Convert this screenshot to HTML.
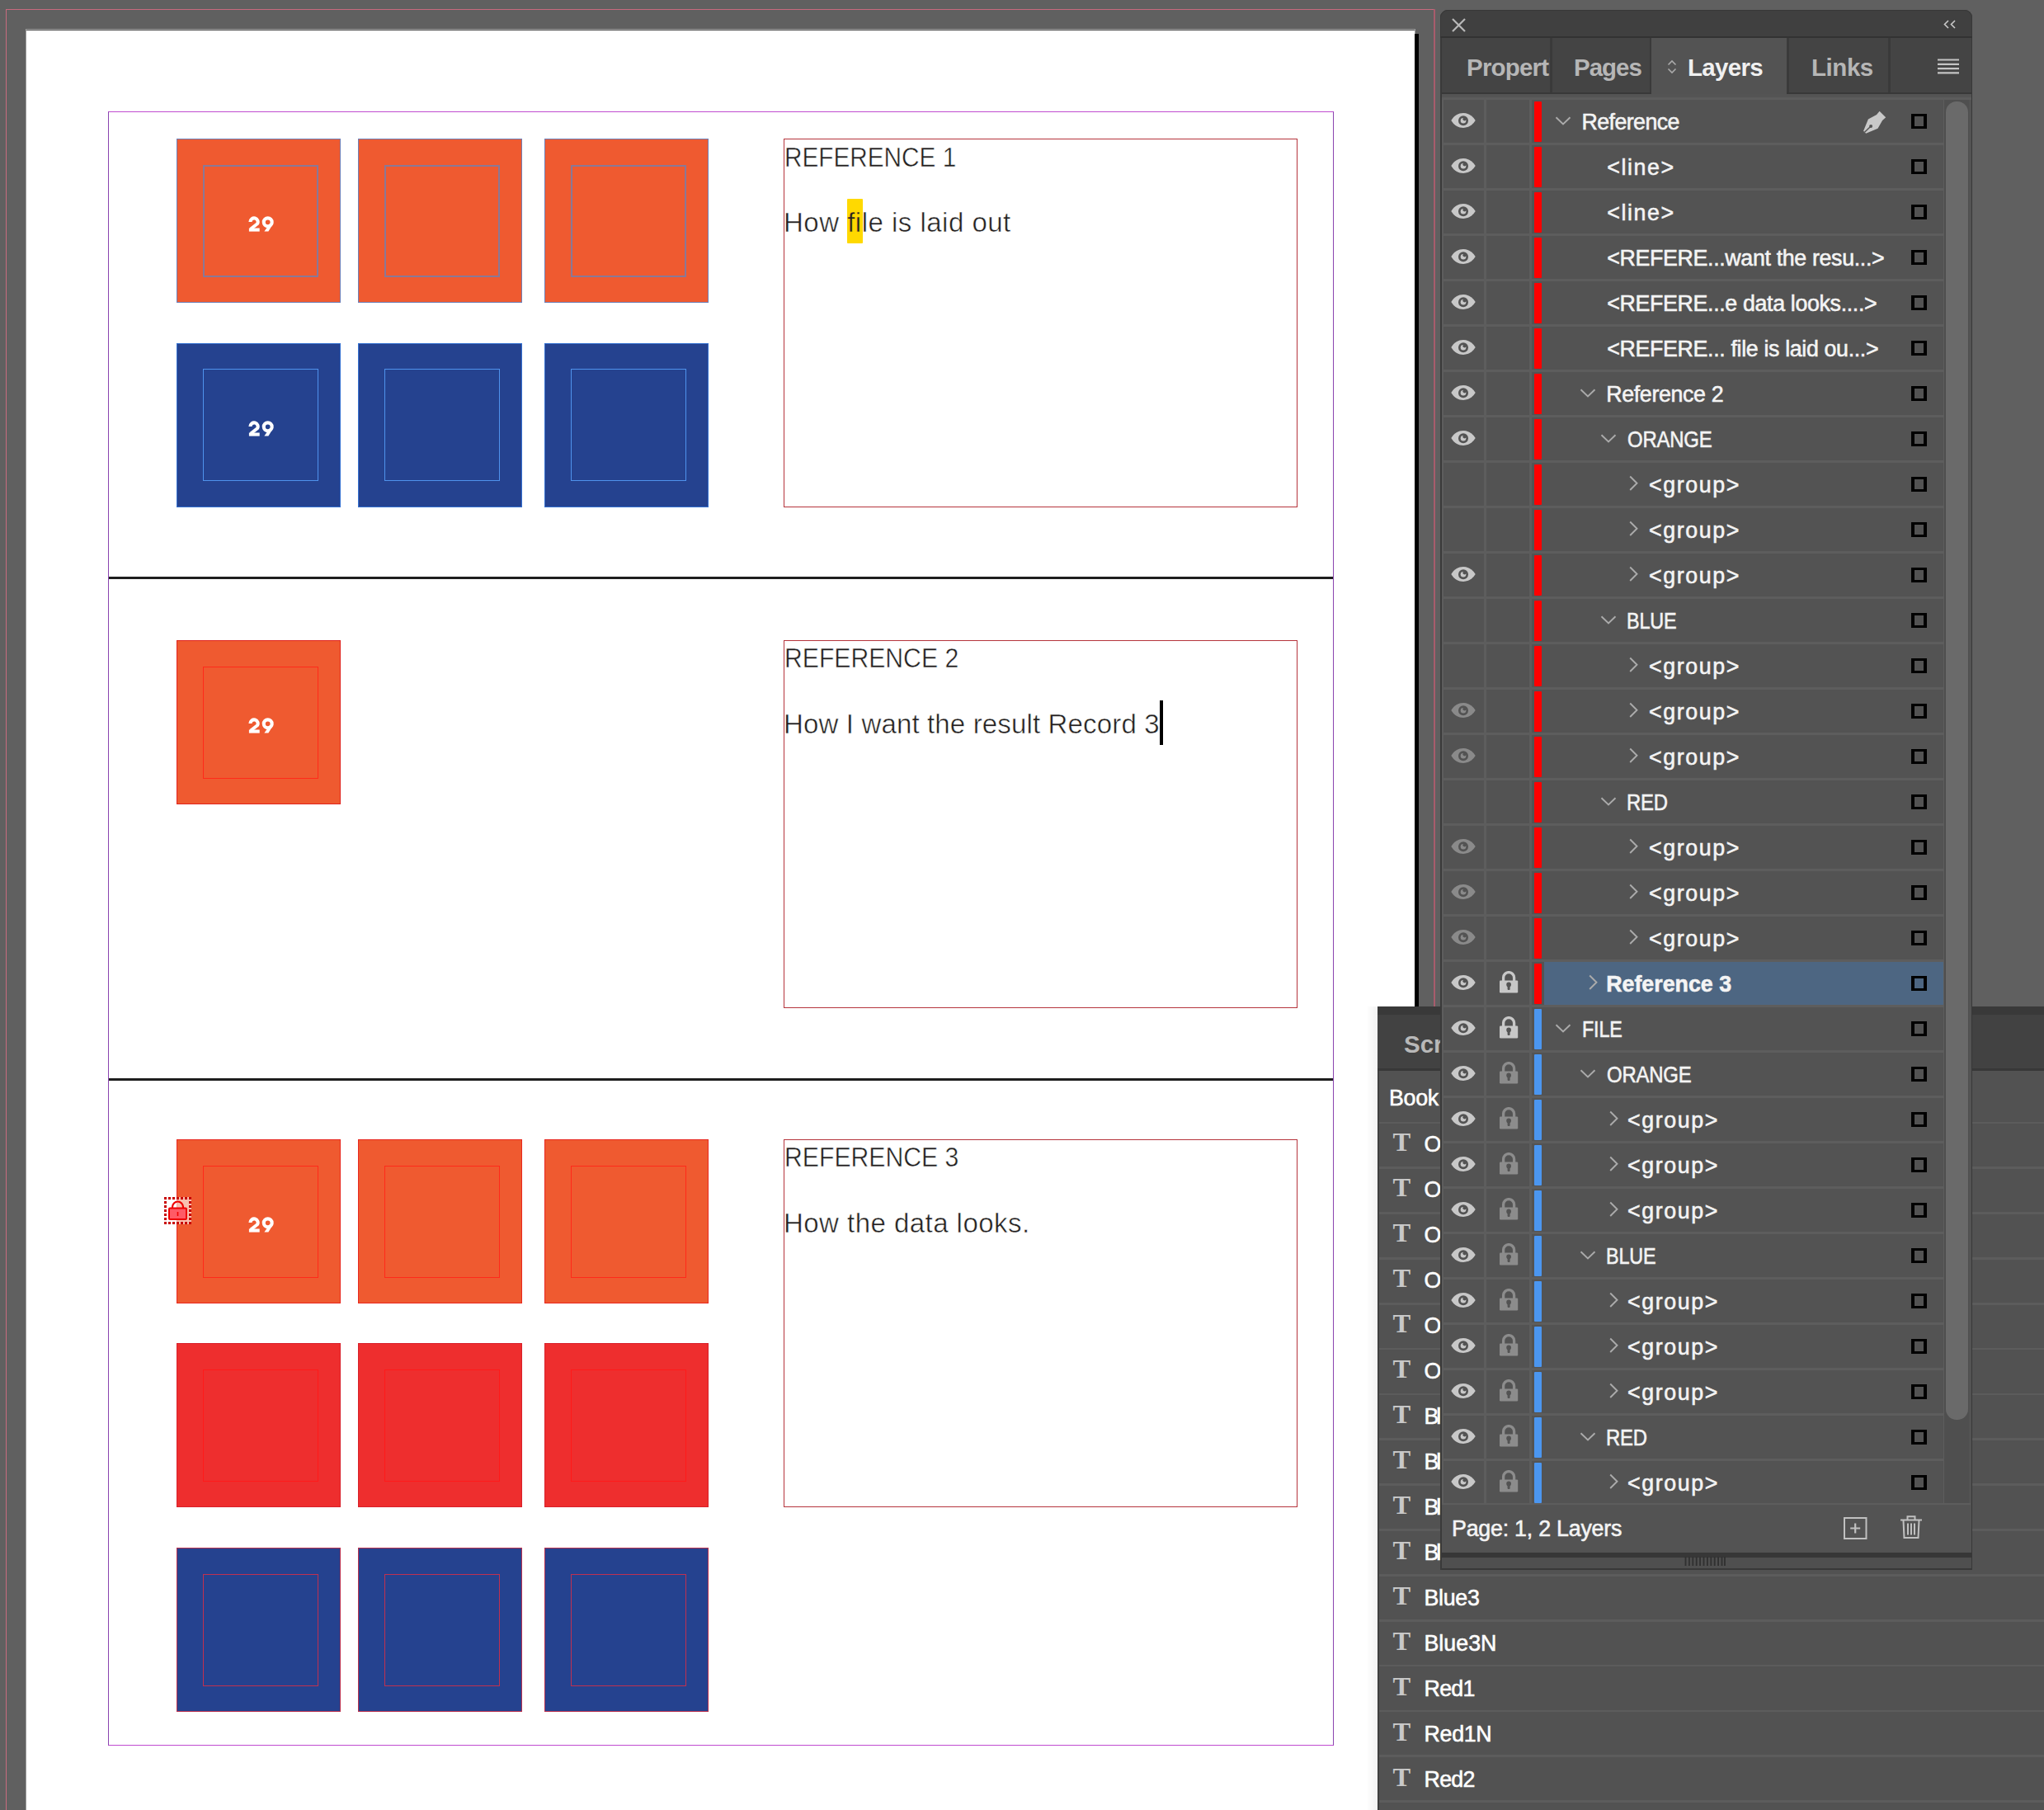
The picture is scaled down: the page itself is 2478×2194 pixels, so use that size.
<!DOCTYPE html><html><head><meta charset="utf-8"><style>

*{margin:0;padding:0;box-sizing:border-box}
html,body{width:2478px;height:2194px;overflow:hidden;background:#606060;font-family:"Liberation Sans",sans-serif}
.abs{position:absolute}
.lh0{position:absolute;line-height:0}
.sq{position:absolute;width:199px;height:199px}
.in{position:absolute;width:140px;height:136px}
.n29{position:absolute;left:0;width:100%;text-align:center;color:#fff;font-weight:bold;font-size:26px;line-height:1;transform:scaleX(1.12)}
.tf{position:absolute;left:950px;width:623px;border:1px solid #b5343c}
.tt{position:absolute;left:950px;white-space:nowrap;color:#231f20;font-size:33px;line-height:1;-webkit-text-stroke:0.5px #fff}
.tt .hl{-webkit-text-stroke:0.5px #ffd900}
.pt{position:absolute;white-space:nowrap;color:#f4f4f4;font-size:26.8px;line-height:1;-webkit-text-stroke:0.55px currentColor}
.cb{position:absolute;left:2317px;width:19px;height:18px;border:solid #000;border-width:3.2px 4px}
.tab{position:absolute;top:67px;font-size:29.5px;font-weight:bold;line-height:1;white-space:nowrap}

</style></head><body>
<div class="abs" style="left:7px;top:11px;width:1733px;height:1px;background:#c86a7e"></div>
<div class="abs" style="left:7px;top:11px;width:1px;height:2183px;background:#c86a7e"></div>
<div class="abs" style="left:1738px;top:11px;width:2px;height:2183px;background:#a85c6c"></div>
<div class="abs" style="left:31px;top:35px;width:1685px;height:2159px;background:#a0a0a0"></div>
<div class="abs" style="left:1715px;top:41px;width:5px;height:2153px;background:#000"></div>
<div class="abs" style="left:32px;top:36px;width:1683px;height:2158px;background:#fff;border-top:1px solid #555"></div>
<div class="abs" style="left:131px;top:135px;width:1486px;height:1981px;border:1px solid;border-color:#c04cd0 #8a44b0 #c04cd0 #8a44b0"></div>
<div class="abs" style="left:132px;top:699px;width:1484px;height:3px;background:#1e1e1e"></div>
<div class="abs" style="left:132px;top:1307px;width:1484px;height:3px;background:#1e1e1e"></div>
<div class="sq" style="left:214px;top:168px;background:#ef5a30;border:1px solid #6f7fb6"></div>
<div class="in" style="left:246px;top:200px;border:2px solid #8a7896"></div>
<svg class="abs" style="left:300.5px;top:261.5px" width="32" height="20" viewBox="0 0 32 20"><path d="M2.45 6.95A4.6 4.6 0 1 1 11.03 9.25L3 15.5" fill="none" stroke="#fff" stroke-width="4.1"/><rect x="0.9" y="14.5" width="12.8" height="4.1" fill="#fff"/><circle cx="23.7" cy="7.3" r="4.95" fill="none" stroke="#fff" stroke-width="4.1"/><path d="M30.65 8.3L24.4 18.6H19.4L25.6 9.6Z" fill="#fff"/></svg>
<div class="sq" style="left:434px;top:168px;background:#ef5a30;border:1px solid #6f7fb6"></div>
<div class="in" style="left:466px;top:200px;border:2px solid #8a7896"></div>
<div class="sq" style="left:660px;top:168px;background:#ef5a30;border:1px solid #6f7fb6"></div>
<div class="in" style="left:692px;top:200px;border:2px solid #8a7896"></div>
<div class="sq" style="left:214px;top:416px;background:#25428f;border:1px solid #3470d0"></div>
<div class="in" style="left:246px;top:447px;border:1px solid #4f92ec"></div>
<svg class="abs" style="left:300.5px;top:509.5px" width="32" height="20" viewBox="0 0 32 20"><path d="M2.45 6.95A4.6 4.6 0 1 1 11.03 9.25L3 15.5" fill="none" stroke="#fff" stroke-width="4.1"/><rect x="0.9" y="14.5" width="12.8" height="4.1" fill="#fff"/><circle cx="23.7" cy="7.3" r="4.95" fill="none" stroke="#fff" stroke-width="4.1"/><path d="M30.65 8.3L24.4 18.6H19.4L25.6 9.6Z" fill="#fff"/></svg>
<div class="sq" style="left:434px;top:416px;background:#25428f;border:1px solid #3470d0"></div>
<div class="in" style="left:466px;top:447px;border:1px solid #4f92ec"></div>
<div class="sq" style="left:660px;top:416px;background:#25428f;border:1px solid #3470d0"></div>
<div class="in" style="left:692px;top:447px;border:1px solid #4f92ec"></div>
<div class="sq" style="left:214px;top:776px;background:#ef5a30;border:1px solid #e0241e"></div>
<div class="in" style="left:246px;top:808px;border:1px solid #ff2a1a"></div>
<svg class="abs" style="left:300.5px;top:869.5px" width="32" height="20" viewBox="0 0 32 20"><path d="M2.45 6.95A4.6 4.6 0 1 1 11.03 9.25L3 15.5" fill="none" stroke="#fff" stroke-width="4.1"/><rect x="0.9" y="14.5" width="12.8" height="4.1" fill="#fff"/><circle cx="23.7" cy="7.3" r="4.95" fill="none" stroke="#fff" stroke-width="4.1"/><path d="M30.65 8.3L24.4 18.6H19.4L25.6 9.6Z" fill="#fff"/></svg>
<div class="sq" style="left:214px;top:1381px;background:#ef5a30;border:1px solid #e8281e"></div>
<div class="in" style="left:246px;top:1413px;border:1px solid #ff2a1a"></div>
<svg class="abs" style="left:300.5px;top:1474.5px" width="32" height="20" viewBox="0 0 32 20"><path d="M2.45 6.95A4.6 4.6 0 1 1 11.03 9.25L3 15.5" fill="none" stroke="#fff" stroke-width="4.1"/><rect x="0.9" y="14.5" width="12.8" height="4.1" fill="#fff"/><circle cx="23.7" cy="7.3" r="4.95" fill="none" stroke="#fff" stroke-width="4.1"/><path d="M30.65 8.3L24.4 18.6H19.4L25.6 9.6Z" fill="#fff"/></svg>
<div class="sq" style="left:434px;top:1381px;background:#ef5a30;border:1px solid #e8281e"></div>
<div class="in" style="left:466px;top:1413px;border:1px solid #ff2a1a"></div>
<div class="sq" style="left:660px;top:1381px;background:#ef5a30;border:1px solid #e8281e"></div>
<div class="in" style="left:692px;top:1413px;border:1px solid #ff2a1a"></div>
<div class="sq" style="left:214px;top:1628px;background:#ee2e2e;border:1px solid #d8202a"></div>
<div class="in" style="left:246px;top:1660px;border:1px solid #ff1a1a"></div>
<div class="sq" style="left:434px;top:1628px;background:#ee2e2e;border:1px solid #d8202a"></div>
<div class="in" style="left:466px;top:1660px;border:1px solid #ff1a1a"></div>
<div class="sq" style="left:660px;top:1628px;background:#ee2e2e;border:1px solid #d8202a"></div>
<div class="in" style="left:692px;top:1660px;border:1px solid #ff1a1a"></div>
<div class="sq" style="left:214px;top:1876px;background:#25428f;border:1px solid #b8304e"></div>
<div class="in" style="left:246px;top:1908px;border:1px solid #c03050"></div>
<div class="sq" style="left:434px;top:1876px;background:#25428f;border:1px solid #b8304e"></div>
<div class="in" style="left:466px;top:1908px;border:1px solid #c03050"></div>
<div class="sq" style="left:660px;top:1876px;background:#25428f;border:1px solid #b8304e"></div>
<div class="in" style="left:692px;top:1908px;border:1px solid #c03050"></div>
<div class="abs" style="left:199px;top:1451px;width:33px;height:33px;background:rgba(255,255,255,0.62)"></div>
<div class="abs" style="left:199px;top:1451px;width:3px;height:3px;background:#c80000"></div><div class="abs" style="left:199px;top:1481px;width:3px;height:3px;background:#c80000"></div><div class="abs" style="left:199px;top:1451px;width:3px;height:3px;background:#c80000"></div><div class="abs" style="left:229px;top:1451px;width:3px;height:3px;background:#c80000"></div><div class="abs" style="left:204px;top:1451px;width:3px;height:3px;background:#c80000"></div><div class="abs" style="left:204px;top:1481px;width:3px;height:3px;background:#c80000"></div><div class="abs" style="left:199px;top:1456px;width:3px;height:3px;background:#c80000"></div><div class="abs" style="left:229px;top:1456px;width:3px;height:3px;background:#c80000"></div><div class="abs" style="left:209px;top:1451px;width:3px;height:3px;background:#c80000"></div><div class="abs" style="left:209px;top:1481px;width:3px;height:3px;background:#c80000"></div><div class="abs" style="left:199px;top:1461px;width:3px;height:3px;background:#c80000"></div><div class="abs" style="left:229px;top:1461px;width:3px;height:3px;background:#c80000"></div><div class="abs" style="left:214px;top:1451px;width:3px;height:3px;background:#c80000"></div><div class="abs" style="left:214px;top:1481px;width:3px;height:3px;background:#c80000"></div><div class="abs" style="left:199px;top:1466px;width:3px;height:3px;background:#c80000"></div><div class="abs" style="left:229px;top:1466px;width:3px;height:3px;background:#c80000"></div><div class="abs" style="left:219px;top:1451px;width:3px;height:3px;background:#c80000"></div><div class="abs" style="left:219px;top:1481px;width:3px;height:3px;background:#c80000"></div><div class="abs" style="left:199px;top:1471px;width:3px;height:3px;background:#c80000"></div><div class="abs" style="left:229px;top:1471px;width:3px;height:3px;background:#c80000"></div><div class="abs" style="left:224px;top:1451px;width:3px;height:3px;background:#c80000"></div><div class="abs" style="left:224px;top:1481px;width:3px;height:3px;background:#c80000"></div><div class="abs" style="left:199px;top:1476px;width:3px;height:3px;background:#c80000"></div><div class="abs" style="left:229px;top:1476px;width:3px;height:3px;background:#c80000"></div><div class="abs" style="left:229px;top:1451px;width:3px;height:3px;background:#c80000"></div><div class="abs" style="left:229px;top:1481px;width:3px;height:3px;background:#c80000"></div><div class="abs" style="left:199px;top:1481px;width:3px;height:3px;background:#c80000"></div><div class="abs" style="left:229px;top:1481px;width:3px;height:3px;background:#c80000"></div>
<svg class="abs" style="left:203px;top:1455px" width="25" height="25" viewBox="0 0 25 25"><path d="M6 9.5V8A6.5 6.5 0 0 1 19 8V9.5" stroke="#ee0000" stroke-width="2.2" fill="none"/><rect x="2" y="9.5" width="21" height="13.5" rx="1" fill="#ff5a66" stroke="#ee0000" stroke-width="2"/><path d="M12.5 14V19" stroke="#ee0000" stroke-width="1.6"/></svg>
<div class="tf" style="top:168px;height:447px"></div>
<div class="tf" style="top:776px;height:446px"></div>
<div class="tf" style="top:1381px;height:446px"></div>
<div class="abs" style="left:1027px;top:241px;width:19px;height:54px;background:#ffd900;border-radius:1px"></div>
<div class="tt" style="top:174px;left:950.60px;transform:scaleX(0.901);transform-origin:0 0">REFERENCE 1</div>
<div class="tt" style="top:253px;letter-spacing:0.49px">How <span class="hl">fi</span>le is laid out</div>
<div class="tt" style="top:781px;left:950.56px;transform:scaleX(0.914);transform-origin:0 0">REFERENCE 2</div>
<div class="tt" style="top:861px;letter-spacing:0.15px">How I want the result Record 3</div>
<div class="tt" style="top:1386px;left:950.55px;transform:scaleX(0.915);transform-origin:0 0">REFERENCE 3</div>
<div class="tt" style="top:1466px;letter-spacing:0.46px">How the data looks.</div>
<div class="abs" style="left:1406px;top:849px;width:4px;height:54px;background:#000"></div>
<div class="abs" style="left:1656px;top:1220px;width:14px;height:974px;background:linear-gradient(to right,rgba(0,0,0,0),rgba(0,0,0,0.05))"></div>
<div class="abs" style="left:1670px;top:1220px;width:808px;height:974px;background:#525252;border-left:2px solid #3e3e3e"></div>
<div class="abs" style="left:1670px;top:1220px;width:808px;height:10px;background:#393939"></div>
<div class="abs" style="left:1670px;top:1230px;width:808px;height:65px;background:#424242"></div>
<div class="tab" style="left:1702px;top:1251px;color:#b8b8b8">Scripts</div>
<div class="abs" style="left:1670px;top:1295px;width:808px;height:3px;background:#383838"></div>
<div class="pt" style="left:1684px;top:1318px;color:#fff;letter-spacing:-0.3px">Book</div>
<div class="abs" style="left:1672px;top:1359.50px;width:806px;height:2.7px;background:#5c5c5c"></div>
<div class="abs" style="left:1672px;top:1414.35px;width:806px;height:2.7px;background:#5c5c5c"></div>
<div class="abs" style="left:1672px;top:1469.20px;width:806px;height:2.7px;background:#5c5c5c"></div>
<div class="abs" style="left:1672px;top:1524.05px;width:806px;height:2.7px;background:#5c5c5c"></div>
<div class="abs" style="left:1672px;top:1578.90px;width:806px;height:2.7px;background:#5c5c5c"></div>
<div class="abs" style="left:1672px;top:1633.75px;width:806px;height:2.7px;background:#5c5c5c"></div>
<div class="abs" style="left:1672px;top:1688.60px;width:806px;height:2.7px;background:#5c5c5c"></div>
<div class="abs" style="left:1672px;top:1743.45px;width:806px;height:2.7px;background:#5c5c5c"></div>
<div class="abs" style="left:1672px;top:1798.30px;width:806px;height:2.7px;background:#5c5c5c"></div>
<div class="abs" style="left:1672px;top:1853.15px;width:806px;height:2.7px;background:#5c5c5c"></div>
<div class="abs" style="left:1672px;top:1908.00px;width:806px;height:2.7px;background:#5c5c5c"></div>
<div class="abs" style="left:1672px;top:1962.85px;width:806px;height:2.7px;background:#5c5c5c"></div>
<div class="abs" style="left:1672px;top:2017.70px;width:806px;height:2.7px;background:#5c5c5c"></div>
<div class="abs" style="left:1672px;top:2072.55px;width:806px;height:2.7px;background:#5c5c5c"></div>
<div class="abs" style="left:1672px;top:2127.40px;width:806px;height:2.7px;background:#5c5c5c"></div>
<div class="abs" style="left:1672px;top:2182.25px;width:806px;height:2.7px;background:#5c5c5c"></div>
<div class="abs" style="left:1688.5px;top:1367.8px;font-family:'Liberation Serif',serif;font-weight:bold;font-size:32.5px;color:#c8c8c8;line-height:1">T</div>
<div class="pt" style="left:1726.5px;top:1374.4px;color:#fff;letter-spacing:0px">O</div>
<div class="abs" style="left:1688.5px;top:1422.8px;font-family:'Liberation Serif',serif;font-weight:bold;font-size:32.5px;color:#c8c8c8;line-height:1">T</div>
<div class="pt" style="left:1726.5px;top:1429.4px;color:#fff;letter-spacing:0px">O</div>
<div class="abs" style="left:1688.5px;top:1477.8px;font-family:'Liberation Serif',serif;font-weight:bold;font-size:32.5px;color:#c8c8c8;line-height:1">T</div>
<div class="pt" style="left:1726.5px;top:1484.4px;color:#fff;letter-spacing:0px">O</div>
<div class="abs" style="left:1688.5px;top:1532.8px;font-family:'Liberation Serif',serif;font-weight:bold;font-size:32.5px;color:#c8c8c8;line-height:1">T</div>
<div class="pt" style="left:1726.5px;top:1539.4px;color:#fff;letter-spacing:0px">O</div>
<div class="abs" style="left:1688.5px;top:1587.8px;font-family:'Liberation Serif',serif;font-weight:bold;font-size:32.5px;color:#c8c8c8;line-height:1">T</div>
<div class="pt" style="left:1726.5px;top:1594.4px;color:#fff;letter-spacing:0px">O</div>
<div class="abs" style="left:1688.5px;top:1642.8px;font-family:'Liberation Serif',serif;font-weight:bold;font-size:32.5px;color:#c8c8c8;line-height:1">T</div>
<div class="pt" style="left:1726.5px;top:1649.4px;color:#fff;letter-spacing:0px">O</div>
<div class="abs" style="left:1688.5px;top:1697.8px;font-family:'Liberation Serif',serif;font-weight:bold;font-size:32.5px;color:#c8c8c8;line-height:1">T</div>
<div class="pt" style="left:1726.5px;top:1704.4px;color:#fff;letter-spacing:-3px">Bl</div>
<div class="abs" style="left:1688.5px;top:1752.8px;font-family:'Liberation Serif',serif;font-weight:bold;font-size:32.5px;color:#c8c8c8;line-height:1">T</div>
<div class="pt" style="left:1726.5px;top:1759.4px;color:#fff;letter-spacing:-3px">Bl</div>
<div class="abs" style="left:1688.5px;top:1807.8px;font-family:'Liberation Serif',serif;font-weight:bold;font-size:32.5px;color:#c8c8c8;line-height:1">T</div>
<div class="pt" style="left:1726.5px;top:1814.4px;color:#fff;letter-spacing:-3px">Bl</div>
<div class="abs" style="left:1688.5px;top:1862.8px;font-family:'Liberation Serif',serif;font-weight:bold;font-size:32.5px;color:#c8c8c8;line-height:1">T</div>
<div class="pt" style="left:1726.5px;top:1869.4px;color:#fff;letter-spacing:-3px">Bl</div>
<div class="abs" style="left:1688.5px;top:1917.8px;font-family:'Liberation Serif',serif;font-weight:bold;font-size:32.5px;color:#c8c8c8;line-height:1">T</div>
<div class="pt" style="left:1726.5px;top:1924.4px;color:#fff;letter-spacing:-0.3px">Blue3</div>
<div class="abs" style="left:1688.5px;top:1972.8px;font-family:'Liberation Serif',serif;font-weight:bold;font-size:32.5px;color:#c8c8c8;line-height:1">T</div>
<div class="pt" style="left:1726.5px;top:1979.4px;color:#fff;letter-spacing:0px">Blue3N</div>
<div class="abs" style="left:1688.5px;top:2027.8px;font-family:'Liberation Serif',serif;font-weight:bold;font-size:32.5px;color:#c8c8c8;line-height:1">T</div>
<div class="pt" style="left:1726.5px;top:2034.4px;color:#fff;letter-spacing:-0.7px">Red1</div>
<div class="abs" style="left:1688.5px;top:2082.8px;font-family:'Liberation Serif',serif;font-weight:bold;font-size:32.5px;color:#c8c8c8;line-height:1">T</div>
<div class="pt" style="left:1726.5px;top:2089.4px;color:#fff;letter-spacing:-0.3px">Red1N</div>
<div class="abs" style="left:1688.5px;top:2137.8px;font-family:'Liberation Serif',serif;font-weight:bold;font-size:32.5px;color:#c8c8c8;line-height:1">T</div>
<div class="pt" style="left:1726.5px;top:2144.4px;color:#fff;letter-spacing:-0.7px">Red2</div>
<div class="abs" style="left:1746px;top:12px;width:645px;height:1891px;background:#535353;border-radius:9px 9px 0 0;border:1px solid #383838"></div>
<div class="abs" style="left:1746px;top:12px;width:645px;height:33px;background:#404040;border-radius:9px 9px 0 0;border:1px solid #383838;border-bottom:none"></div>
<div class="abs" style="left:1746px;top:44px;width:645px;height:2px;background:#333"></div>
<svg class="abs" style="left:1759px;top:21px" width="19" height="19" viewBox="0 0 19 19"><path d="M2 2L17 17M17 2L2 17" stroke="#b8b8b8" stroke-width="2.2"/></svg>
<svg class="abs" style="left:2356px;top:24px" width="16" height="11" viewBox="0 0 16 11"><path d="M6 1L1.5 5.5L6 10M14 1L9.5 5.5L14 10" stroke="#c8c8c8" stroke-width="1.6" fill="none"/></svg>
<div class="abs" style="left:1747px;top:46px;width:643px;height:67px;background:#444"></div>
<div class="abs" style="left:1879px;top:46px;width:3px;height:67px;background:#3a3a3a"></div>
<div class="abs" style="left:2166px;top:46px;width:3px;height:67px;background:#3a3a3a"></div>
<div class="abs" style="left:2289px;top:46px;width:3px;height:67px;background:#3a3a3a"></div>
<div class="abs" style="left:2002px;top:46px;width:164px;height:75px;background:#535353"></div>
<div class="abs" style="left:2000px;top:46px;width:2px;height:67px;background:#3a3a3a"></div>
<div class="tab" style="left:1778px;width:101px;overflow:hidden;color:#b6b6b6;letter-spacing:-0.8px">Properties</div>
<div class="tab" style="left:1908px;color:#b6b6b6;letter-spacing:-1px">Pages</div>
<div class="tab" style="left:2046px;color:#f0f0f0;letter-spacing:-0.68px">Layers</div>
<div class="tab" style="left:2196px;color:#b6b6b6;letter-spacing:-0.45px">Links</div>
<svg class="abs" style="left:2021px;top:72px" width="12" height="18" viewBox="0 0 12 18"><path d="M1.5 6.5L6 2L10.5 6.5M1.5 11.5L6 16L10.5 11.5" stroke="#aaa" stroke-width="1.6" fill="none"/></svg>
<svg class="abs" style="left:2349px;top:71px" width="26" height="19" viewBox="0 0 26 19"><path d="M0 1.5H26M0 6.8H26M0 12.1H26M0 17.4H26" stroke="#c4c4c4" stroke-width="2.2"/></svg>
<div class="abs" style="left:1747px;top:112px;width:643px;height:2px;background:#383838"></div>
<div class="abs" style="left:2002px;top:112px;width:164px;height:2px;background:#535353"></div>
<div class="abs" style="left:1747px;top:114px;width:643px;height:4px;background:#545454"></div>
<div class="abs" style="left:1747px;top:118px;width:643px;height:3px;background:#5c5c5c"></div>
<div class="abs" style="left:1747px;top:121px;width:610px;height:1703px;background:#5d5d5d"></div>
<div class="abs" style="left:1750px;top:121.00px;width:49px;height:52px;background:#535353"></div>
<div class="abs" style="left:1802px;top:121.00px;width:52px;height:52px;background:#535353"></div>
<div class="abs" style="left:1857px;top:121.00px;width:15px;height:52px;background:#535353"></div>
<div class="abs" style="left:1872px;top:121.00px;width:484px;height:52px;background:#535353"></div>
<div class="abs" style="left:1860px;top:122.50px;width:8.5px;height:49px;background:#ff0000;border-radius:1px"></div>
<div class="lh0" style="left:1759px;top:137.00px"><svg width="30" height="18" viewBox="0 0 30 18"><path d="M0.3 9C7 -3 23 -3 29.7 9C23 21 7 21 0.3 9Z" fill="#c8c8c8"/><circle cx="15" cy="9.2" r="6" fill="#535353"/><circle cx="15" cy="9.2" r="3.3" fill="#c8c8c8"/><circle cx="16.5" cy="7.3" r="2.1" fill="#535353"/></svg></div>
<div class="lh0" style="left:1885px;top:141.30px"><svg width="20" height="11" viewBox="0 0 20 11"><path d="M1.5 1.2L10 9.4L18.5 1.2" stroke="#ababab" stroke-width="1.9" fill="none"/></svg></div>
<div class="pt" style="left:1917.5px;top:135.00px;font-weight:normal;letter-spacing:-0.59px">Reference</div>
<div class="cb" style="top:138.00px"></div>
<div class="lh0" style="left:2258px;top:134.00px"><svg width="30" height="30" viewBox="0 0 30 30"><path d="M20.6 0.8L28.2 8.3L24.1 12L18.5 21.7L4.1 27.8L1.1 24.8L6.9 10.6L17.1 5Z" fill="#c8c8c8"/><circle cx="10.1" cy="19" r="2" fill="#535353"/><path d="M2.5 26.3L10.1 19" stroke="#535353" stroke-width="1.5"/></svg></div>
<div class="abs" style="left:1750px;top:176.00px;width:49px;height:52px;background:#535353"></div>
<div class="abs" style="left:1802px;top:176.00px;width:52px;height:52px;background:#535353"></div>
<div class="abs" style="left:1857px;top:176.00px;width:15px;height:52px;background:#535353"></div>
<div class="abs" style="left:1872px;top:176.00px;width:484px;height:52px;background:#535353"></div>
<div class="abs" style="left:1860px;top:177.50px;width:8.5px;height:49px;background:#ff0000;border-radius:1px"></div>
<div class="lh0" style="left:1759px;top:192.00px"><svg width="30" height="18" viewBox="0 0 30 18"><path d="M0.3 9C7 -3 23 -3 29.7 9C23 21 7 21 0.3 9Z" fill="#c8c8c8"/><circle cx="15" cy="9.2" r="6" fill="#535353"/><circle cx="15" cy="9.2" r="3.3" fill="#c8c8c8"/><circle cx="16.5" cy="7.3" r="2.1" fill="#535353"/></svg></div>
<div class="pt" style="left:1948.2px;top:190.00px;font-weight:normal;letter-spacing:1.6px">&lt;line&gt;</div>
<div class="cb" style="top:193.00px"></div>
<div class="abs" style="left:1750px;top:231.00px;width:49px;height:52px;background:#535353"></div>
<div class="abs" style="left:1802px;top:231.00px;width:52px;height:52px;background:#535353"></div>
<div class="abs" style="left:1857px;top:231.00px;width:15px;height:52px;background:#535353"></div>
<div class="abs" style="left:1872px;top:231.00px;width:484px;height:52px;background:#535353"></div>
<div class="abs" style="left:1860px;top:232.50px;width:8.5px;height:49px;background:#ff0000;border-radius:1px"></div>
<div class="lh0" style="left:1759px;top:247.00px"><svg width="30" height="18" viewBox="0 0 30 18"><path d="M0.3 9C7 -3 23 -3 29.7 9C23 21 7 21 0.3 9Z" fill="#c8c8c8"/><circle cx="15" cy="9.2" r="6" fill="#535353"/><circle cx="15" cy="9.2" r="3.3" fill="#c8c8c8"/><circle cx="16.5" cy="7.3" r="2.1" fill="#535353"/></svg></div>
<div class="pt" style="left:1948.2px;top:245.00px;font-weight:normal;letter-spacing:1.6px">&lt;line&gt;</div>
<div class="cb" style="top:248.00px"></div>
<div class="abs" style="left:1750px;top:286.00px;width:49px;height:52px;background:#535353"></div>
<div class="abs" style="left:1802px;top:286.00px;width:52px;height:52px;background:#535353"></div>
<div class="abs" style="left:1857px;top:286.00px;width:15px;height:52px;background:#535353"></div>
<div class="abs" style="left:1872px;top:286.00px;width:484px;height:52px;background:#535353"></div>
<div class="abs" style="left:1860px;top:287.50px;width:8.5px;height:49px;background:#ff0000;border-radius:1px"></div>
<div class="lh0" style="left:1759px;top:302.00px"><svg width="30" height="18" viewBox="0 0 30 18"><path d="M0.3 9C7 -3 23 -3 29.7 9C23 21 7 21 0.3 9Z" fill="#c8c8c8"/><circle cx="15" cy="9.2" r="6" fill="#535353"/><circle cx="15" cy="9.2" r="3.3" fill="#c8c8c8"/><circle cx="16.5" cy="7.3" r="2.1" fill="#535353"/></svg></div>
<div class="pt" style="left:1948.2px;top:300.00px;font-weight:normal;letter-spacing:-0.35px">&lt;REFERE...want the resu...&gt;</div>
<div class="cb" style="top:303.00px"></div>
<div class="abs" style="left:1750px;top:341.00px;width:49px;height:52px;background:#535353"></div>
<div class="abs" style="left:1802px;top:341.00px;width:52px;height:52px;background:#535353"></div>
<div class="abs" style="left:1857px;top:341.00px;width:15px;height:52px;background:#535353"></div>
<div class="abs" style="left:1872px;top:341.00px;width:484px;height:52px;background:#535353"></div>
<div class="abs" style="left:1860px;top:342.50px;width:8.5px;height:49px;background:#ff0000;border-radius:1px"></div>
<div class="lh0" style="left:1759px;top:357.00px"><svg width="30" height="18" viewBox="0 0 30 18"><path d="M0.3 9C7 -3 23 -3 29.7 9C23 21 7 21 0.3 9Z" fill="#c8c8c8"/><circle cx="15" cy="9.2" r="6" fill="#535353"/><circle cx="15" cy="9.2" r="3.3" fill="#c8c8c8"/><circle cx="16.5" cy="7.3" r="2.1" fill="#535353"/></svg></div>
<div class="pt" style="left:1948.2px;top:355.00px;font-weight:normal;letter-spacing:-0.35px">&lt;REFERE...e data looks....&gt;</div>
<div class="cb" style="top:358.00px"></div>
<div class="abs" style="left:1750px;top:396.00px;width:49px;height:52px;background:#535353"></div>
<div class="abs" style="left:1802px;top:396.00px;width:52px;height:52px;background:#535353"></div>
<div class="abs" style="left:1857px;top:396.00px;width:15px;height:52px;background:#535353"></div>
<div class="abs" style="left:1872px;top:396.00px;width:484px;height:52px;background:#535353"></div>
<div class="abs" style="left:1860px;top:397.50px;width:8.5px;height:49px;background:#ff0000;border-radius:1px"></div>
<div class="lh0" style="left:1759px;top:412.00px"><svg width="30" height="18" viewBox="0 0 30 18"><path d="M0.3 9C7 -3 23 -3 29.7 9C23 21 7 21 0.3 9Z" fill="#c8c8c8"/><circle cx="15" cy="9.2" r="6" fill="#535353"/><circle cx="15" cy="9.2" r="3.3" fill="#c8c8c8"/><circle cx="16.5" cy="7.3" r="2.1" fill="#535353"/></svg></div>
<div class="pt" style="left:1948.2px;top:410.00px;font-weight:normal;letter-spacing:-0.35px">&lt;REFERE... file is laid ou...&gt;</div>
<div class="cb" style="top:413.00px"></div>
<div class="abs" style="left:1750px;top:451.00px;width:49px;height:52px;background:#535353"></div>
<div class="abs" style="left:1802px;top:451.00px;width:52px;height:52px;background:#535353"></div>
<div class="abs" style="left:1857px;top:451.00px;width:15px;height:52px;background:#535353"></div>
<div class="abs" style="left:1872px;top:451.00px;width:484px;height:52px;background:#535353"></div>
<div class="abs" style="left:1860px;top:452.50px;width:8.5px;height:49px;background:#ff0000;border-radius:1px"></div>
<div class="lh0" style="left:1759px;top:467.00px"><svg width="30" height="18" viewBox="0 0 30 18"><path d="M0.3 9C7 -3 23 -3 29.7 9C23 21 7 21 0.3 9Z" fill="#c8c8c8"/><circle cx="15" cy="9.2" r="6" fill="#535353"/><circle cx="15" cy="9.2" r="3.3" fill="#c8c8c8"/><circle cx="16.5" cy="7.3" r="2.1" fill="#535353"/></svg></div>
<div class="lh0" style="left:1914.5px;top:471.30px"><svg width="20" height="11" viewBox="0 0 20 11"><path d="M1.5 1.2L10 9.4L18.5 1.2" stroke="#ababab" stroke-width="1.9" fill="none"/></svg></div>
<div class="pt" style="left:1947.2px;top:465.00px;font-weight:normal;letter-spacing:-0.35px">Reference 2</div>
<div class="cb" style="top:468.00px"></div>
<div class="abs" style="left:1750px;top:506.00px;width:49px;height:52px;background:#535353"></div>
<div class="abs" style="left:1802px;top:506.00px;width:52px;height:52px;background:#535353"></div>
<div class="abs" style="left:1857px;top:506.00px;width:15px;height:52px;background:#535353"></div>
<div class="abs" style="left:1872px;top:506.00px;width:484px;height:52px;background:#535353"></div>
<div class="abs" style="left:1860px;top:507.50px;width:8.5px;height:49px;background:#ff0000;border-radius:1px"></div>
<div class="lh0" style="left:1759px;top:522.00px"><svg width="30" height="18" viewBox="0 0 30 18"><path d="M0.3 9C7 -3 23 -3 29.7 9C23 21 7 21 0.3 9Z" fill="#c8c8c8"/><circle cx="15" cy="9.2" r="6" fill="#535353"/><circle cx="15" cy="9.2" r="3.3" fill="#c8c8c8"/><circle cx="16.5" cy="7.3" r="2.1" fill="#535353"/></svg></div>
<div class="lh0" style="left:1940px;top:526.30px"><svg width="20" height="11" viewBox="0 0 20 11"><path d="M1.5 1.2L10 9.4L18.5 1.2" stroke="#ababab" stroke-width="1.9" fill="none"/></svg></div>
<div class="pt" style="left:1973.11px;top:520.00px;transform:scaleX(0.8921);transform-origin:0 0;letter-spacing:-0.2px">ORANGE</div>
<div class="cb" style="top:523.00px"></div>
<div class="abs" style="left:1750px;top:561.00px;width:49px;height:52px;background:#535353"></div>
<div class="abs" style="left:1802px;top:561.00px;width:52px;height:52px;background:#535353"></div>
<div class="abs" style="left:1857px;top:561.00px;width:15px;height:52px;background:#535353"></div>
<div class="abs" style="left:1872px;top:561.00px;width:484px;height:52px;background:#535353"></div>
<div class="abs" style="left:1860px;top:562.50px;width:8.5px;height:49px;background:#ff0000;border-radius:1px"></div>
<div class="lh0" style="left:1975px;top:576.00px"><svg width="11" height="20" viewBox="0 0 11 20"><path d="M1.2 1.5L9.5 9.8L1.2 18" stroke="#ababab" stroke-width="1.9" fill="none"/></svg></div>
<div class="pt" style="left:1999px;top:575.00px;font-weight:normal;letter-spacing:1.6px">&lt;group&gt;</div>
<div class="cb" style="top:578.00px"></div>
<div class="abs" style="left:1750px;top:616.00px;width:49px;height:52px;background:#535353"></div>
<div class="abs" style="left:1802px;top:616.00px;width:52px;height:52px;background:#535353"></div>
<div class="abs" style="left:1857px;top:616.00px;width:15px;height:52px;background:#535353"></div>
<div class="abs" style="left:1872px;top:616.00px;width:484px;height:52px;background:#535353"></div>
<div class="abs" style="left:1860px;top:617.50px;width:8.5px;height:49px;background:#ff0000;border-radius:1px"></div>
<div class="lh0" style="left:1975px;top:631.00px"><svg width="11" height="20" viewBox="0 0 11 20"><path d="M1.2 1.5L9.5 9.8L1.2 18" stroke="#ababab" stroke-width="1.9" fill="none"/></svg></div>
<div class="pt" style="left:1999px;top:630.00px;font-weight:normal;letter-spacing:1.6px">&lt;group&gt;</div>
<div class="cb" style="top:633.00px"></div>
<div class="abs" style="left:1750px;top:671.00px;width:49px;height:52px;background:#535353"></div>
<div class="abs" style="left:1802px;top:671.00px;width:52px;height:52px;background:#535353"></div>
<div class="abs" style="left:1857px;top:671.00px;width:15px;height:52px;background:#535353"></div>
<div class="abs" style="left:1872px;top:671.00px;width:484px;height:52px;background:#535353"></div>
<div class="abs" style="left:1860px;top:672.50px;width:8.5px;height:49px;background:#ff0000;border-radius:1px"></div>
<div class="lh0" style="left:1759px;top:687.00px"><svg width="30" height="18" viewBox="0 0 30 18"><path d="M0.3 9C7 -3 23 -3 29.7 9C23 21 7 21 0.3 9Z" fill="#c8c8c8"/><circle cx="15" cy="9.2" r="6" fill="#535353"/><circle cx="15" cy="9.2" r="3.3" fill="#c8c8c8"/><circle cx="16.5" cy="7.3" r="2.1" fill="#535353"/></svg></div>
<div class="lh0" style="left:1975px;top:686.00px"><svg width="11" height="20" viewBox="0 0 11 20"><path d="M1.2 1.5L9.5 9.8L1.2 18" stroke="#ababab" stroke-width="1.9" fill="none"/></svg></div>
<div class="pt" style="left:1999px;top:685.00px;font-weight:normal;letter-spacing:1.6px">&lt;group&gt;</div>
<div class="cb" style="top:688.00px"></div>
<div class="abs" style="left:1750px;top:726.00px;width:49px;height:52px;background:#535353"></div>
<div class="abs" style="left:1802px;top:726.00px;width:52px;height:52px;background:#535353"></div>
<div class="abs" style="left:1857px;top:726.00px;width:15px;height:52px;background:#535353"></div>
<div class="abs" style="left:1872px;top:726.00px;width:484px;height:52px;background:#535353"></div>
<div class="abs" style="left:1860px;top:727.50px;width:8.5px;height:49px;background:#ff0000;border-radius:1px"></div>
<div class="lh0" style="left:1940px;top:746.30px"><svg width="20" height="11" viewBox="0 0 20 11"><path d="M1.5 1.2L10 9.4L18.5 1.2" stroke="#ababab" stroke-width="1.9" fill="none"/></svg></div>
<div class="pt" style="left:1972.25px;top:740.00px;transform:scaleX(0.8731);transform-origin:0 0;letter-spacing:-0.2px">BLUE</div>
<div class="cb" style="top:743.00px"></div>
<div class="abs" style="left:1750px;top:781.00px;width:49px;height:52px;background:#535353"></div>
<div class="abs" style="left:1802px;top:781.00px;width:52px;height:52px;background:#535353"></div>
<div class="abs" style="left:1857px;top:781.00px;width:15px;height:52px;background:#535353"></div>
<div class="abs" style="left:1872px;top:781.00px;width:484px;height:52px;background:#535353"></div>
<div class="abs" style="left:1860px;top:782.50px;width:8.5px;height:49px;background:#ff0000;border-radius:1px"></div>
<div class="lh0" style="left:1975px;top:796.00px"><svg width="11" height="20" viewBox="0 0 11 20"><path d="M1.2 1.5L9.5 9.8L1.2 18" stroke="#ababab" stroke-width="1.9" fill="none"/></svg></div>
<div class="pt" style="left:1999px;top:795.00px;font-weight:normal;letter-spacing:1.6px">&lt;group&gt;</div>
<div class="cb" style="top:798.00px"></div>
<div class="abs" style="left:1750px;top:836.00px;width:49px;height:52px;background:#535353"></div>
<div class="abs" style="left:1802px;top:836.00px;width:52px;height:52px;background:#535353"></div>
<div class="abs" style="left:1857px;top:836.00px;width:15px;height:52px;background:#535353"></div>
<div class="abs" style="left:1872px;top:836.00px;width:484px;height:52px;background:#535353"></div>
<div class="abs" style="left:1860px;top:837.50px;width:8.5px;height:49px;background:#ff0000;border-radius:1px"></div>
<div class="lh0" style="left:1759px;top:852.00px"><svg width="30" height="18" viewBox="0 0 30 18"><path d="M0.3 9C7 -3 23 -3 29.7 9C23 21 7 21 0.3 9Z" fill="#8a8a8a"/><circle cx="15" cy="9.2" r="6" fill="#535353"/><circle cx="15" cy="9.2" r="3.3" fill="#8a8a8a"/><circle cx="16.5" cy="7.3" r="2.1" fill="#535353"/></svg></div>
<div class="lh0" style="left:1975px;top:851.00px"><svg width="11" height="20" viewBox="0 0 11 20"><path d="M1.2 1.5L9.5 9.8L1.2 18" stroke="#ababab" stroke-width="1.9" fill="none"/></svg></div>
<div class="pt" style="left:1999px;top:850.00px;font-weight:normal;letter-spacing:1.6px">&lt;group&gt;</div>
<div class="cb" style="top:853.00px"></div>
<div class="abs" style="left:1750px;top:891.00px;width:49px;height:52px;background:#535353"></div>
<div class="abs" style="left:1802px;top:891.00px;width:52px;height:52px;background:#535353"></div>
<div class="abs" style="left:1857px;top:891.00px;width:15px;height:52px;background:#535353"></div>
<div class="abs" style="left:1872px;top:891.00px;width:484px;height:52px;background:#535353"></div>
<div class="abs" style="left:1860px;top:892.50px;width:8.5px;height:49px;background:#ff0000;border-radius:1px"></div>
<div class="lh0" style="left:1759px;top:907.00px"><svg width="30" height="18" viewBox="0 0 30 18"><path d="M0.3 9C7 -3 23 -3 29.7 9C23 21 7 21 0.3 9Z" fill="#8a8a8a"/><circle cx="15" cy="9.2" r="6" fill="#535353"/><circle cx="15" cy="9.2" r="3.3" fill="#8a8a8a"/><circle cx="16.5" cy="7.3" r="2.1" fill="#535353"/></svg></div>
<div class="lh0" style="left:1975px;top:906.00px"><svg width="11" height="20" viewBox="0 0 11 20"><path d="M1.2 1.5L9.5 9.8L1.2 18" stroke="#ababab" stroke-width="1.9" fill="none"/></svg></div>
<div class="pt" style="left:1999px;top:905.00px;font-weight:normal;letter-spacing:1.6px">&lt;group&gt;</div>
<div class="cb" style="top:908.00px"></div>
<div class="abs" style="left:1750px;top:946.00px;width:49px;height:52px;background:#535353"></div>
<div class="abs" style="left:1802px;top:946.00px;width:52px;height:52px;background:#535353"></div>
<div class="abs" style="left:1857px;top:946.00px;width:15px;height:52px;background:#535353"></div>
<div class="abs" style="left:1872px;top:946.00px;width:484px;height:52px;background:#535353"></div>
<div class="abs" style="left:1860px;top:947.50px;width:8.5px;height:49px;background:#ff0000;border-radius:1px"></div>
<div class="lh0" style="left:1940px;top:966.30px"><svg width="20" height="11" viewBox="0 0 20 11"><path d="M1.5 1.2L10 9.4L18.5 1.2" stroke="#ababab" stroke-width="1.9" fill="none"/></svg></div>
<div class="pt" style="left:1972.22px;top:960.00px;transform:scaleX(0.8906);transform-origin:0 0;letter-spacing:-0.2px">RED</div>
<div class="cb" style="top:963.00px"></div>
<div class="abs" style="left:1750px;top:1001.00px;width:49px;height:52px;background:#535353"></div>
<div class="abs" style="left:1802px;top:1001.00px;width:52px;height:52px;background:#535353"></div>
<div class="abs" style="left:1857px;top:1001.00px;width:15px;height:52px;background:#535353"></div>
<div class="abs" style="left:1872px;top:1001.00px;width:484px;height:52px;background:#535353"></div>
<div class="abs" style="left:1860px;top:1002.50px;width:8.5px;height:49px;background:#ff0000;border-radius:1px"></div>
<div class="lh0" style="left:1759px;top:1017.00px"><svg width="30" height="18" viewBox="0 0 30 18"><path d="M0.3 9C7 -3 23 -3 29.7 9C23 21 7 21 0.3 9Z" fill="#8a8a8a"/><circle cx="15" cy="9.2" r="6" fill="#535353"/><circle cx="15" cy="9.2" r="3.3" fill="#8a8a8a"/><circle cx="16.5" cy="7.3" r="2.1" fill="#535353"/></svg></div>
<div class="lh0" style="left:1975px;top:1016.00px"><svg width="11" height="20" viewBox="0 0 11 20"><path d="M1.2 1.5L9.5 9.8L1.2 18" stroke="#ababab" stroke-width="1.9" fill="none"/></svg></div>
<div class="pt" style="left:1999px;top:1015.00px;font-weight:normal;letter-spacing:1.6px">&lt;group&gt;</div>
<div class="cb" style="top:1018.00px"></div>
<div class="abs" style="left:1750px;top:1056.00px;width:49px;height:52px;background:#535353"></div>
<div class="abs" style="left:1802px;top:1056.00px;width:52px;height:52px;background:#535353"></div>
<div class="abs" style="left:1857px;top:1056.00px;width:15px;height:52px;background:#535353"></div>
<div class="abs" style="left:1872px;top:1056.00px;width:484px;height:52px;background:#535353"></div>
<div class="abs" style="left:1860px;top:1057.50px;width:8.5px;height:49px;background:#ff0000;border-radius:1px"></div>
<div class="lh0" style="left:1759px;top:1072.00px"><svg width="30" height="18" viewBox="0 0 30 18"><path d="M0.3 9C7 -3 23 -3 29.7 9C23 21 7 21 0.3 9Z" fill="#8a8a8a"/><circle cx="15" cy="9.2" r="6" fill="#535353"/><circle cx="15" cy="9.2" r="3.3" fill="#8a8a8a"/><circle cx="16.5" cy="7.3" r="2.1" fill="#535353"/></svg></div>
<div class="lh0" style="left:1975px;top:1071.00px"><svg width="11" height="20" viewBox="0 0 11 20"><path d="M1.2 1.5L9.5 9.8L1.2 18" stroke="#ababab" stroke-width="1.9" fill="none"/></svg></div>
<div class="pt" style="left:1999px;top:1070.00px;font-weight:normal;letter-spacing:1.6px">&lt;group&gt;</div>
<div class="cb" style="top:1073.00px"></div>
<div class="abs" style="left:1750px;top:1111.00px;width:49px;height:52px;background:#535353"></div>
<div class="abs" style="left:1802px;top:1111.00px;width:52px;height:52px;background:#535353"></div>
<div class="abs" style="left:1857px;top:1111.00px;width:15px;height:52px;background:#535353"></div>
<div class="abs" style="left:1872px;top:1111.00px;width:484px;height:52px;background:#535353"></div>
<div class="abs" style="left:1860px;top:1112.50px;width:8.5px;height:49px;background:#ff0000;border-radius:1px"></div>
<div class="lh0" style="left:1759px;top:1127.00px"><svg width="30" height="18" viewBox="0 0 30 18"><path d="M0.3 9C7 -3 23 -3 29.7 9C23 21 7 21 0.3 9Z" fill="#8a8a8a"/><circle cx="15" cy="9.2" r="6" fill="#535353"/><circle cx="15" cy="9.2" r="3.3" fill="#8a8a8a"/><circle cx="16.5" cy="7.3" r="2.1" fill="#535353"/></svg></div>
<div class="lh0" style="left:1975px;top:1126.00px"><svg width="11" height="20" viewBox="0 0 11 20"><path d="M1.2 1.5L9.5 9.8L1.2 18" stroke="#ababab" stroke-width="1.9" fill="none"/></svg></div>
<div class="pt" style="left:1999px;top:1125.00px;font-weight:normal;letter-spacing:1.6px">&lt;group&gt;</div>
<div class="cb" style="top:1128.00px"></div>
<div class="abs" style="left:1750px;top:1166.00px;width:49px;height:52px;background:#535353"></div>
<div class="abs" style="left:1802px;top:1166.00px;width:52px;height:52px;background:#535353"></div>
<div class="abs" style="left:1857px;top:1166.00px;width:15px;height:52px;background:#535353"></div>
<div class="abs" style="left:1872px;top:1166.00px;width:484px;height:52px;background:#4d6682"></div>
<div class="abs" style="left:1860px;top:1167.50px;width:8.5px;height:49px;background:#ff0000;border-radius:1px"></div>
<div class="lh0" style="left:1759px;top:1182.00px"><svg width="30" height="18" viewBox="0 0 30 18"><path d="M0.3 9C7 -3 23 -3 29.7 9C23 21 7 21 0.3 9Z" fill="#c8c8c8"/><circle cx="15" cy="9.2" r="6" fill="#535353"/><circle cx="15" cy="9.2" r="3.3" fill="#c8c8c8"/><circle cx="16.5" cy="7.3" r="2.1" fill="#535353"/></svg></div>
<div class="lh0" style="left:1818px;top:1176.80px"><svg width="23" height="27" viewBox="0 0 23 27"><path d="M4.6 12V8.1A6.5 6.5 0 0 1 17.6 8.1V12" stroke="#c8c8c8" stroke-width="3.3" fill="none"/><rect x="0" y="11.4" width="22.2" height="15" rx="1.2" fill="#c8c8c8"/><circle cx="11.1" cy="16.4" r="2.85" fill="#535353"/><rect x="9.6" y="16.4" width="3" height="6.6" rx="1" fill="#535353"/></svg></div>
<div class="lh0" style="left:1925.5px;top:1181.00px"><svg width="11" height="20" viewBox="0 0 11 20"><path d="M1.2 1.5L9.5 9.8L1.2 18" stroke="#ababab" stroke-width="1.9" fill="none"/></svg></div>
<div class="pt" style="left:1947.2px;top:1180.00px;font-weight:bold;letter-spacing:0px">Reference 3</div>
<div class="cb" style="top:1183.00px"></div>
<div class="abs" style="left:1750px;top:1221.00px;width:49px;height:52px;background:#535353"></div>
<div class="abs" style="left:1802px;top:1221.00px;width:52px;height:52px;background:#535353"></div>
<div class="abs" style="left:1857px;top:1221.00px;width:15px;height:52px;background:#535353"></div>
<div class="abs" style="left:1872px;top:1221.00px;width:484px;height:52px;background:#535353"></div>
<div class="abs" style="left:1860px;top:1222.50px;width:8.5px;height:49px;background:#4b96f0;border-radius:1px"></div>
<div class="lh0" style="left:1759px;top:1237.00px"><svg width="30" height="18" viewBox="0 0 30 18"><path d="M0.3 9C7 -3 23 -3 29.7 9C23 21 7 21 0.3 9Z" fill="#c8c8c8"/><circle cx="15" cy="9.2" r="6" fill="#535353"/><circle cx="15" cy="9.2" r="3.3" fill="#c8c8c8"/><circle cx="16.5" cy="7.3" r="2.1" fill="#535353"/></svg></div>
<div class="lh0" style="left:1818px;top:1231.80px"><svg width="23" height="27" viewBox="0 0 23 27"><path d="M4.6 12V8.1A6.5 6.5 0 0 1 17.6 8.1V12" stroke="#c8c8c8" stroke-width="3.3" fill="none"/><rect x="0" y="11.4" width="22.2" height="15" rx="1.2" fill="#c8c8c8"/><circle cx="11.1" cy="16.4" r="2.85" fill="#535353"/><rect x="9.6" y="16.4" width="3" height="6.6" rx="1" fill="#535353"/></svg></div>
<div class="lh0" style="left:1885px;top:1241.30px"><svg width="20" height="11" viewBox="0 0 20 11"><path d="M1.5 1.2L10 9.4L18.5 1.2" stroke="#ababab" stroke-width="1.9" fill="none"/></svg></div>
<div class="pt" style="left:1917.76px;top:1235.00px;transform:scaleX(0.8704);transform-origin:0 0;letter-spacing:-0.2px">FILE</div>
<div class="cb" style="top:1238.00px"></div>
<div class="abs" style="left:1750px;top:1276.00px;width:49px;height:52px;background:#535353"></div>
<div class="abs" style="left:1802px;top:1276.00px;width:52px;height:52px;background:#535353"></div>
<div class="abs" style="left:1857px;top:1276.00px;width:15px;height:52px;background:#535353"></div>
<div class="abs" style="left:1872px;top:1276.00px;width:484px;height:52px;background:#535353"></div>
<div class="abs" style="left:1860px;top:1277.50px;width:8.5px;height:49px;background:#4b96f0;border-radius:1px"></div>
<div class="lh0" style="left:1759px;top:1292.00px"><svg width="30" height="18" viewBox="0 0 30 18"><path d="M0.3 9C7 -3 23 -3 29.7 9C23 21 7 21 0.3 9Z" fill="#c8c8c8"/><circle cx="15" cy="9.2" r="6" fill="#535353"/><circle cx="15" cy="9.2" r="3.3" fill="#c8c8c8"/><circle cx="16.5" cy="7.3" r="2.1" fill="#535353"/></svg></div>
<div class="lh0" style="left:1818px;top:1286.80px"><svg width="23" height="27" viewBox="0 0 23 27"><path d="M4.6 12V8.1A6.5 6.5 0 0 1 17.6 8.1V12" stroke="#8c8c8c" stroke-width="3.3" fill="none"/><rect x="0" y="11.4" width="22.2" height="15" rx="1.2" fill="#8c8c8c"/><circle cx="11.1" cy="16.4" r="2.85" fill="#535353"/><rect x="9.6" y="16.4" width="3" height="6.6" rx="1" fill="#535353"/></svg></div>
<div class="lh0" style="left:1914.5px;top:1296.30px"><svg width="20" height="11" viewBox="0 0 20 11"><path d="M1.5 1.2L10 9.4L18.5 1.2" stroke="#ababab" stroke-width="1.9" fill="none"/></svg></div>
<div class="pt" style="left:1948.31px;top:1290.00px;transform:scaleX(0.8921);transform-origin:0 0;letter-spacing:-0.2px">ORANGE</div>
<div class="cb" style="top:1293.00px"></div>
<div class="abs" style="left:1750px;top:1331.00px;width:49px;height:52px;background:#535353"></div>
<div class="abs" style="left:1802px;top:1331.00px;width:52px;height:52px;background:#535353"></div>
<div class="abs" style="left:1857px;top:1331.00px;width:15px;height:52px;background:#535353"></div>
<div class="abs" style="left:1872px;top:1331.00px;width:484px;height:52px;background:#535353"></div>
<div class="abs" style="left:1860px;top:1332.50px;width:8.5px;height:49px;background:#4b96f0;border-radius:1px"></div>
<div class="lh0" style="left:1759px;top:1347.00px"><svg width="30" height="18" viewBox="0 0 30 18"><path d="M0.3 9C7 -3 23 -3 29.7 9C23 21 7 21 0.3 9Z" fill="#c8c8c8"/><circle cx="15" cy="9.2" r="6" fill="#535353"/><circle cx="15" cy="9.2" r="3.3" fill="#c8c8c8"/><circle cx="16.5" cy="7.3" r="2.1" fill="#535353"/></svg></div>
<div class="lh0" style="left:1818px;top:1341.80px"><svg width="23" height="27" viewBox="0 0 23 27"><path d="M4.6 12V8.1A6.5 6.5 0 0 1 17.6 8.1V12" stroke="#8c8c8c" stroke-width="3.3" fill="none"/><rect x="0" y="11.4" width="22.2" height="15" rx="1.2" fill="#8c8c8c"/><circle cx="11.1" cy="16.4" r="2.85" fill="#535353"/><rect x="9.6" y="16.4" width="3" height="6.6" rx="1" fill="#535353"/></svg></div>
<div class="lh0" style="left:1950.5px;top:1346.00px"><svg width="11" height="20" viewBox="0 0 11 20"><path d="M1.2 1.5L9.5 9.8L1.2 18" stroke="#ababab" stroke-width="1.9" fill="none"/></svg></div>
<div class="pt" style="left:1973px;top:1345.00px;font-weight:normal;letter-spacing:1.6px">&lt;group&gt;</div>
<div class="cb" style="top:1348.00px"></div>
<div class="abs" style="left:1750px;top:1386.00px;width:49px;height:52px;background:#535353"></div>
<div class="abs" style="left:1802px;top:1386.00px;width:52px;height:52px;background:#535353"></div>
<div class="abs" style="left:1857px;top:1386.00px;width:15px;height:52px;background:#535353"></div>
<div class="abs" style="left:1872px;top:1386.00px;width:484px;height:52px;background:#535353"></div>
<div class="abs" style="left:1860px;top:1387.50px;width:8.5px;height:49px;background:#4b96f0;border-radius:1px"></div>
<div class="lh0" style="left:1759px;top:1402.00px"><svg width="30" height="18" viewBox="0 0 30 18"><path d="M0.3 9C7 -3 23 -3 29.7 9C23 21 7 21 0.3 9Z" fill="#c8c8c8"/><circle cx="15" cy="9.2" r="6" fill="#535353"/><circle cx="15" cy="9.2" r="3.3" fill="#c8c8c8"/><circle cx="16.5" cy="7.3" r="2.1" fill="#535353"/></svg></div>
<div class="lh0" style="left:1818px;top:1396.80px"><svg width="23" height="27" viewBox="0 0 23 27"><path d="M4.6 12V8.1A6.5 6.5 0 0 1 17.6 8.1V12" stroke="#8c8c8c" stroke-width="3.3" fill="none"/><rect x="0" y="11.4" width="22.2" height="15" rx="1.2" fill="#8c8c8c"/><circle cx="11.1" cy="16.4" r="2.85" fill="#535353"/><rect x="9.6" y="16.4" width="3" height="6.6" rx="1" fill="#535353"/></svg></div>
<div class="lh0" style="left:1950.5px;top:1401.00px"><svg width="11" height="20" viewBox="0 0 11 20"><path d="M1.2 1.5L9.5 9.8L1.2 18" stroke="#ababab" stroke-width="1.9" fill="none"/></svg></div>
<div class="pt" style="left:1973px;top:1400.00px;font-weight:normal;letter-spacing:1.6px">&lt;group&gt;</div>
<div class="cb" style="top:1403.00px"></div>
<div class="abs" style="left:1750px;top:1441.00px;width:49px;height:52px;background:#535353"></div>
<div class="abs" style="left:1802px;top:1441.00px;width:52px;height:52px;background:#535353"></div>
<div class="abs" style="left:1857px;top:1441.00px;width:15px;height:52px;background:#535353"></div>
<div class="abs" style="left:1872px;top:1441.00px;width:484px;height:52px;background:#535353"></div>
<div class="abs" style="left:1860px;top:1442.50px;width:8.5px;height:49px;background:#4b96f0;border-radius:1px"></div>
<div class="lh0" style="left:1759px;top:1457.00px"><svg width="30" height="18" viewBox="0 0 30 18"><path d="M0.3 9C7 -3 23 -3 29.7 9C23 21 7 21 0.3 9Z" fill="#c8c8c8"/><circle cx="15" cy="9.2" r="6" fill="#535353"/><circle cx="15" cy="9.2" r="3.3" fill="#c8c8c8"/><circle cx="16.5" cy="7.3" r="2.1" fill="#535353"/></svg></div>
<div class="lh0" style="left:1818px;top:1451.80px"><svg width="23" height="27" viewBox="0 0 23 27"><path d="M4.6 12V8.1A6.5 6.5 0 0 1 17.6 8.1V12" stroke="#8c8c8c" stroke-width="3.3" fill="none"/><rect x="0" y="11.4" width="22.2" height="15" rx="1.2" fill="#8c8c8c"/><circle cx="11.1" cy="16.4" r="2.85" fill="#535353"/><rect x="9.6" y="16.4" width="3" height="6.6" rx="1" fill="#535353"/></svg></div>
<div class="lh0" style="left:1950.5px;top:1456.00px"><svg width="11" height="20" viewBox="0 0 11 20"><path d="M1.2 1.5L9.5 9.8L1.2 18" stroke="#ababab" stroke-width="1.9" fill="none"/></svg></div>
<div class="pt" style="left:1973px;top:1455.00px;font-weight:normal;letter-spacing:1.6px">&lt;group&gt;</div>
<div class="cb" style="top:1458.00px"></div>
<div class="abs" style="left:1750px;top:1496.00px;width:49px;height:52px;background:#535353"></div>
<div class="abs" style="left:1802px;top:1496.00px;width:52px;height:52px;background:#535353"></div>
<div class="abs" style="left:1857px;top:1496.00px;width:15px;height:52px;background:#535353"></div>
<div class="abs" style="left:1872px;top:1496.00px;width:484px;height:52px;background:#535353"></div>
<div class="abs" style="left:1860px;top:1497.50px;width:8.5px;height:49px;background:#4b96f0;border-radius:1px"></div>
<div class="lh0" style="left:1759px;top:1512.00px"><svg width="30" height="18" viewBox="0 0 30 18"><path d="M0.3 9C7 -3 23 -3 29.7 9C23 21 7 21 0.3 9Z" fill="#c8c8c8"/><circle cx="15" cy="9.2" r="6" fill="#535353"/><circle cx="15" cy="9.2" r="3.3" fill="#c8c8c8"/><circle cx="16.5" cy="7.3" r="2.1" fill="#535353"/></svg></div>
<div class="lh0" style="left:1818px;top:1506.80px"><svg width="23" height="27" viewBox="0 0 23 27"><path d="M4.6 12V8.1A6.5 6.5 0 0 1 17.6 8.1V12" stroke="#8c8c8c" stroke-width="3.3" fill="none"/><rect x="0" y="11.4" width="22.2" height="15" rx="1.2" fill="#8c8c8c"/><circle cx="11.1" cy="16.4" r="2.85" fill="#535353"/><rect x="9.6" y="16.4" width="3" height="6.6" rx="1" fill="#535353"/></svg></div>
<div class="lh0" style="left:1914.5px;top:1516.30px"><svg width="20" height="11" viewBox="0 0 20 11"><path d="M1.5 1.2L10 9.4L18.5 1.2" stroke="#ababab" stroke-width="1.9" fill="none"/></svg></div>
<div class="pt" style="left:1947.45px;top:1510.00px;transform:scaleX(0.8731);transform-origin:0 0;letter-spacing:-0.2px">BLUE</div>
<div class="cb" style="top:1513.00px"></div>
<div class="abs" style="left:1750px;top:1551.00px;width:49px;height:52px;background:#535353"></div>
<div class="abs" style="left:1802px;top:1551.00px;width:52px;height:52px;background:#535353"></div>
<div class="abs" style="left:1857px;top:1551.00px;width:15px;height:52px;background:#535353"></div>
<div class="abs" style="left:1872px;top:1551.00px;width:484px;height:52px;background:#535353"></div>
<div class="abs" style="left:1860px;top:1552.50px;width:8.5px;height:49px;background:#4b96f0;border-radius:1px"></div>
<div class="lh0" style="left:1759px;top:1567.00px"><svg width="30" height="18" viewBox="0 0 30 18"><path d="M0.3 9C7 -3 23 -3 29.7 9C23 21 7 21 0.3 9Z" fill="#c8c8c8"/><circle cx="15" cy="9.2" r="6" fill="#535353"/><circle cx="15" cy="9.2" r="3.3" fill="#c8c8c8"/><circle cx="16.5" cy="7.3" r="2.1" fill="#535353"/></svg></div>
<div class="lh0" style="left:1818px;top:1561.80px"><svg width="23" height="27" viewBox="0 0 23 27"><path d="M4.6 12V8.1A6.5 6.5 0 0 1 17.6 8.1V12" stroke="#8c8c8c" stroke-width="3.3" fill="none"/><rect x="0" y="11.4" width="22.2" height="15" rx="1.2" fill="#8c8c8c"/><circle cx="11.1" cy="16.4" r="2.85" fill="#535353"/><rect x="9.6" y="16.4" width="3" height="6.6" rx="1" fill="#535353"/></svg></div>
<div class="lh0" style="left:1950.5px;top:1566.00px"><svg width="11" height="20" viewBox="0 0 11 20"><path d="M1.2 1.5L9.5 9.8L1.2 18" stroke="#ababab" stroke-width="1.9" fill="none"/></svg></div>
<div class="pt" style="left:1973px;top:1565.00px;font-weight:normal;letter-spacing:1.6px">&lt;group&gt;</div>
<div class="cb" style="top:1568.00px"></div>
<div class="abs" style="left:1750px;top:1606.00px;width:49px;height:52px;background:#535353"></div>
<div class="abs" style="left:1802px;top:1606.00px;width:52px;height:52px;background:#535353"></div>
<div class="abs" style="left:1857px;top:1606.00px;width:15px;height:52px;background:#535353"></div>
<div class="abs" style="left:1872px;top:1606.00px;width:484px;height:52px;background:#535353"></div>
<div class="abs" style="left:1860px;top:1607.50px;width:8.5px;height:49px;background:#4b96f0;border-radius:1px"></div>
<div class="lh0" style="left:1759px;top:1622.00px"><svg width="30" height="18" viewBox="0 0 30 18"><path d="M0.3 9C7 -3 23 -3 29.7 9C23 21 7 21 0.3 9Z" fill="#c8c8c8"/><circle cx="15" cy="9.2" r="6" fill="#535353"/><circle cx="15" cy="9.2" r="3.3" fill="#c8c8c8"/><circle cx="16.5" cy="7.3" r="2.1" fill="#535353"/></svg></div>
<div class="lh0" style="left:1818px;top:1616.80px"><svg width="23" height="27" viewBox="0 0 23 27"><path d="M4.6 12V8.1A6.5 6.5 0 0 1 17.6 8.1V12" stroke="#8c8c8c" stroke-width="3.3" fill="none"/><rect x="0" y="11.4" width="22.2" height="15" rx="1.2" fill="#8c8c8c"/><circle cx="11.1" cy="16.4" r="2.85" fill="#535353"/><rect x="9.6" y="16.4" width="3" height="6.6" rx="1" fill="#535353"/></svg></div>
<div class="lh0" style="left:1950.5px;top:1621.00px"><svg width="11" height="20" viewBox="0 0 11 20"><path d="M1.2 1.5L9.5 9.8L1.2 18" stroke="#ababab" stroke-width="1.9" fill="none"/></svg></div>
<div class="pt" style="left:1973px;top:1620.00px;font-weight:normal;letter-spacing:1.6px">&lt;group&gt;</div>
<div class="cb" style="top:1623.00px"></div>
<div class="abs" style="left:1750px;top:1661.00px;width:49px;height:52px;background:#535353"></div>
<div class="abs" style="left:1802px;top:1661.00px;width:52px;height:52px;background:#535353"></div>
<div class="abs" style="left:1857px;top:1661.00px;width:15px;height:52px;background:#535353"></div>
<div class="abs" style="left:1872px;top:1661.00px;width:484px;height:52px;background:#535353"></div>
<div class="abs" style="left:1860px;top:1662.50px;width:8.5px;height:49px;background:#4b96f0;border-radius:1px"></div>
<div class="lh0" style="left:1759px;top:1677.00px"><svg width="30" height="18" viewBox="0 0 30 18"><path d="M0.3 9C7 -3 23 -3 29.7 9C23 21 7 21 0.3 9Z" fill="#c8c8c8"/><circle cx="15" cy="9.2" r="6" fill="#535353"/><circle cx="15" cy="9.2" r="3.3" fill="#c8c8c8"/><circle cx="16.5" cy="7.3" r="2.1" fill="#535353"/></svg></div>
<div class="lh0" style="left:1818px;top:1671.80px"><svg width="23" height="27" viewBox="0 0 23 27"><path d="M4.6 12V8.1A6.5 6.5 0 0 1 17.6 8.1V12" stroke="#8c8c8c" stroke-width="3.3" fill="none"/><rect x="0" y="11.4" width="22.2" height="15" rx="1.2" fill="#8c8c8c"/><circle cx="11.1" cy="16.4" r="2.85" fill="#535353"/><rect x="9.6" y="16.4" width="3" height="6.6" rx="1" fill="#535353"/></svg></div>
<div class="lh0" style="left:1950.5px;top:1676.00px"><svg width="11" height="20" viewBox="0 0 11 20"><path d="M1.2 1.5L9.5 9.8L1.2 18" stroke="#ababab" stroke-width="1.9" fill="none"/></svg></div>
<div class="pt" style="left:1973px;top:1675.00px;font-weight:normal;letter-spacing:1.6px">&lt;group&gt;</div>
<div class="cb" style="top:1678.00px"></div>
<div class="abs" style="left:1750px;top:1716.00px;width:49px;height:52px;background:#535353"></div>
<div class="abs" style="left:1802px;top:1716.00px;width:52px;height:52px;background:#535353"></div>
<div class="abs" style="left:1857px;top:1716.00px;width:15px;height:52px;background:#535353"></div>
<div class="abs" style="left:1872px;top:1716.00px;width:484px;height:52px;background:#535353"></div>
<div class="abs" style="left:1860px;top:1717.50px;width:8.5px;height:49px;background:#4b96f0;border-radius:1px"></div>
<div class="lh0" style="left:1759px;top:1732.00px"><svg width="30" height="18" viewBox="0 0 30 18"><path d="M0.3 9C7 -3 23 -3 29.7 9C23 21 7 21 0.3 9Z" fill="#c8c8c8"/><circle cx="15" cy="9.2" r="6" fill="#535353"/><circle cx="15" cy="9.2" r="3.3" fill="#c8c8c8"/><circle cx="16.5" cy="7.3" r="2.1" fill="#535353"/></svg></div>
<div class="lh0" style="left:1818px;top:1726.80px"><svg width="23" height="27" viewBox="0 0 23 27"><path d="M4.6 12V8.1A6.5 6.5 0 0 1 17.6 8.1V12" stroke="#8c8c8c" stroke-width="3.3" fill="none"/><rect x="0" y="11.4" width="22.2" height="15" rx="1.2" fill="#8c8c8c"/><circle cx="11.1" cy="16.4" r="2.85" fill="#535353"/><rect x="9.6" y="16.4" width="3" height="6.6" rx="1" fill="#535353"/></svg></div>
<div class="lh0" style="left:1914.5px;top:1736.30px"><svg width="20" height="11" viewBox="0 0 20 11"><path d="M1.5 1.2L10 9.4L18.5 1.2" stroke="#ababab" stroke-width="1.9" fill="none"/></svg></div>
<div class="pt" style="left:1947.42px;top:1730.00px;transform:scaleX(0.8906);transform-origin:0 0;letter-spacing:-0.2px">RED</div>
<div class="cb" style="top:1733.00px"></div>
<div class="abs" style="left:1750px;top:1771.00px;width:49px;height:52px;background:#535353"></div>
<div class="abs" style="left:1802px;top:1771.00px;width:52px;height:52px;background:#535353"></div>
<div class="abs" style="left:1857px;top:1771.00px;width:15px;height:52px;background:#535353"></div>
<div class="abs" style="left:1872px;top:1771.00px;width:484px;height:52px;background:#535353"></div>
<div class="abs" style="left:1860px;top:1772.50px;width:8.5px;height:49px;background:#4b96f0;border-radius:1px"></div>
<div class="lh0" style="left:1759px;top:1787.00px"><svg width="30" height="18" viewBox="0 0 30 18"><path d="M0.3 9C7 -3 23 -3 29.7 9C23 21 7 21 0.3 9Z" fill="#c8c8c8"/><circle cx="15" cy="9.2" r="6" fill="#535353"/><circle cx="15" cy="9.2" r="3.3" fill="#c8c8c8"/><circle cx="16.5" cy="7.3" r="2.1" fill="#535353"/></svg></div>
<div class="lh0" style="left:1818px;top:1781.80px"><svg width="23" height="27" viewBox="0 0 23 27"><path d="M4.6 12V8.1A6.5 6.5 0 0 1 17.6 8.1V12" stroke="#8c8c8c" stroke-width="3.3" fill="none"/><rect x="0" y="11.4" width="22.2" height="15" rx="1.2" fill="#8c8c8c"/><circle cx="11.1" cy="16.4" r="2.85" fill="#535353"/><rect x="9.6" y="16.4" width="3" height="6.6" rx="1" fill="#535353"/></svg></div>
<div class="lh0" style="left:1950.5px;top:1786.00px"><svg width="11" height="20" viewBox="0 0 11 20"><path d="M1.2 1.5L9.5 9.8L1.2 18" stroke="#ababab" stroke-width="1.9" fill="none"/></svg></div>
<div class="pt" style="left:1973px;top:1785.00px;font-weight:normal;letter-spacing:1.6px">&lt;group&gt;</div>
<div class="cb" style="top:1788.00px"></div>
<div class="abs" style="left:2357px;top:121px;width:30px;height:1703px;background:#4f4f4f"></div>
<div class="abs" style="left:2359px;top:123px;width:27px;height:1598px;background:#6a6a6a;border-radius:13px"></div>
<div class="abs" style="left:1747px;top:1822px;width:643px;height:61px;background:#535353"></div>
<div class="abs" style="left:1748px;top:1821.5px;width:641px;height:2.5px;background:#5d5d5d"></div>
<div class="pt" style="left:1760px;top:1840px;letter-spacing:-0.23px">Page: 1, 2 Layers</div>
<svg class="abs" style="left:2235px;top:1839px" width="29" height="27" viewBox="0 0 29 27"><rect x="1" y="1" width="26.5" height="25" fill="none" stroke="#c0c0c0" stroke-width="2"/><path d="M14.2 7.5V19.5M8.2 13.5H20.2" stroke="#c0c0c0" stroke-width="2.2"/></svg>
<svg class="abs" style="left:2303px;top:1836px" width="28" height="29" viewBox="0 0 28 29"><path d="M1 6.5H27M9.5 6V2.2H18.5V6" stroke="#c0c0c0" stroke-width="2" fill="none"/><path d="M4.5 7L5.5 28H22.5L23.5 7" stroke="#c0c0c0" stroke-width="2" fill="none"/><path d="M10 10.5V24.5M14 10.5V24.5M18 10.5V24.5" stroke="#c0c0c0" stroke-width="2"/></svg>
<div class="abs" style="left:1746px;top:1882px;width:645px;height:6px;background:#373737"></div>
<div class="abs" style="left:1746px;top:1888px;width:645px;height:15px;background:#4f4f4f;border:1px solid #383838;border-top:none;border-bottom:2px solid #383838"></div>
<svg class="abs" style="left:2042px;top:1887px" width="50" height="11" viewBox="0 0 50 11"><path d="M1.5 0V11M5.9 0V11M10.3 0V11M14.7 0V11M19.1 0V11M23.5 0V11M27.9 0V11M32.3 0V11M36.7 0V11M41.1 0V11M45.5 0V11M49 0V11" stroke="#303030" stroke-width="1.8"/></svg>
<div class="abs" style="left:1746px;top:46px;width:2px;height:1857px;background:#3a3a3a"></div>
</body></html>
